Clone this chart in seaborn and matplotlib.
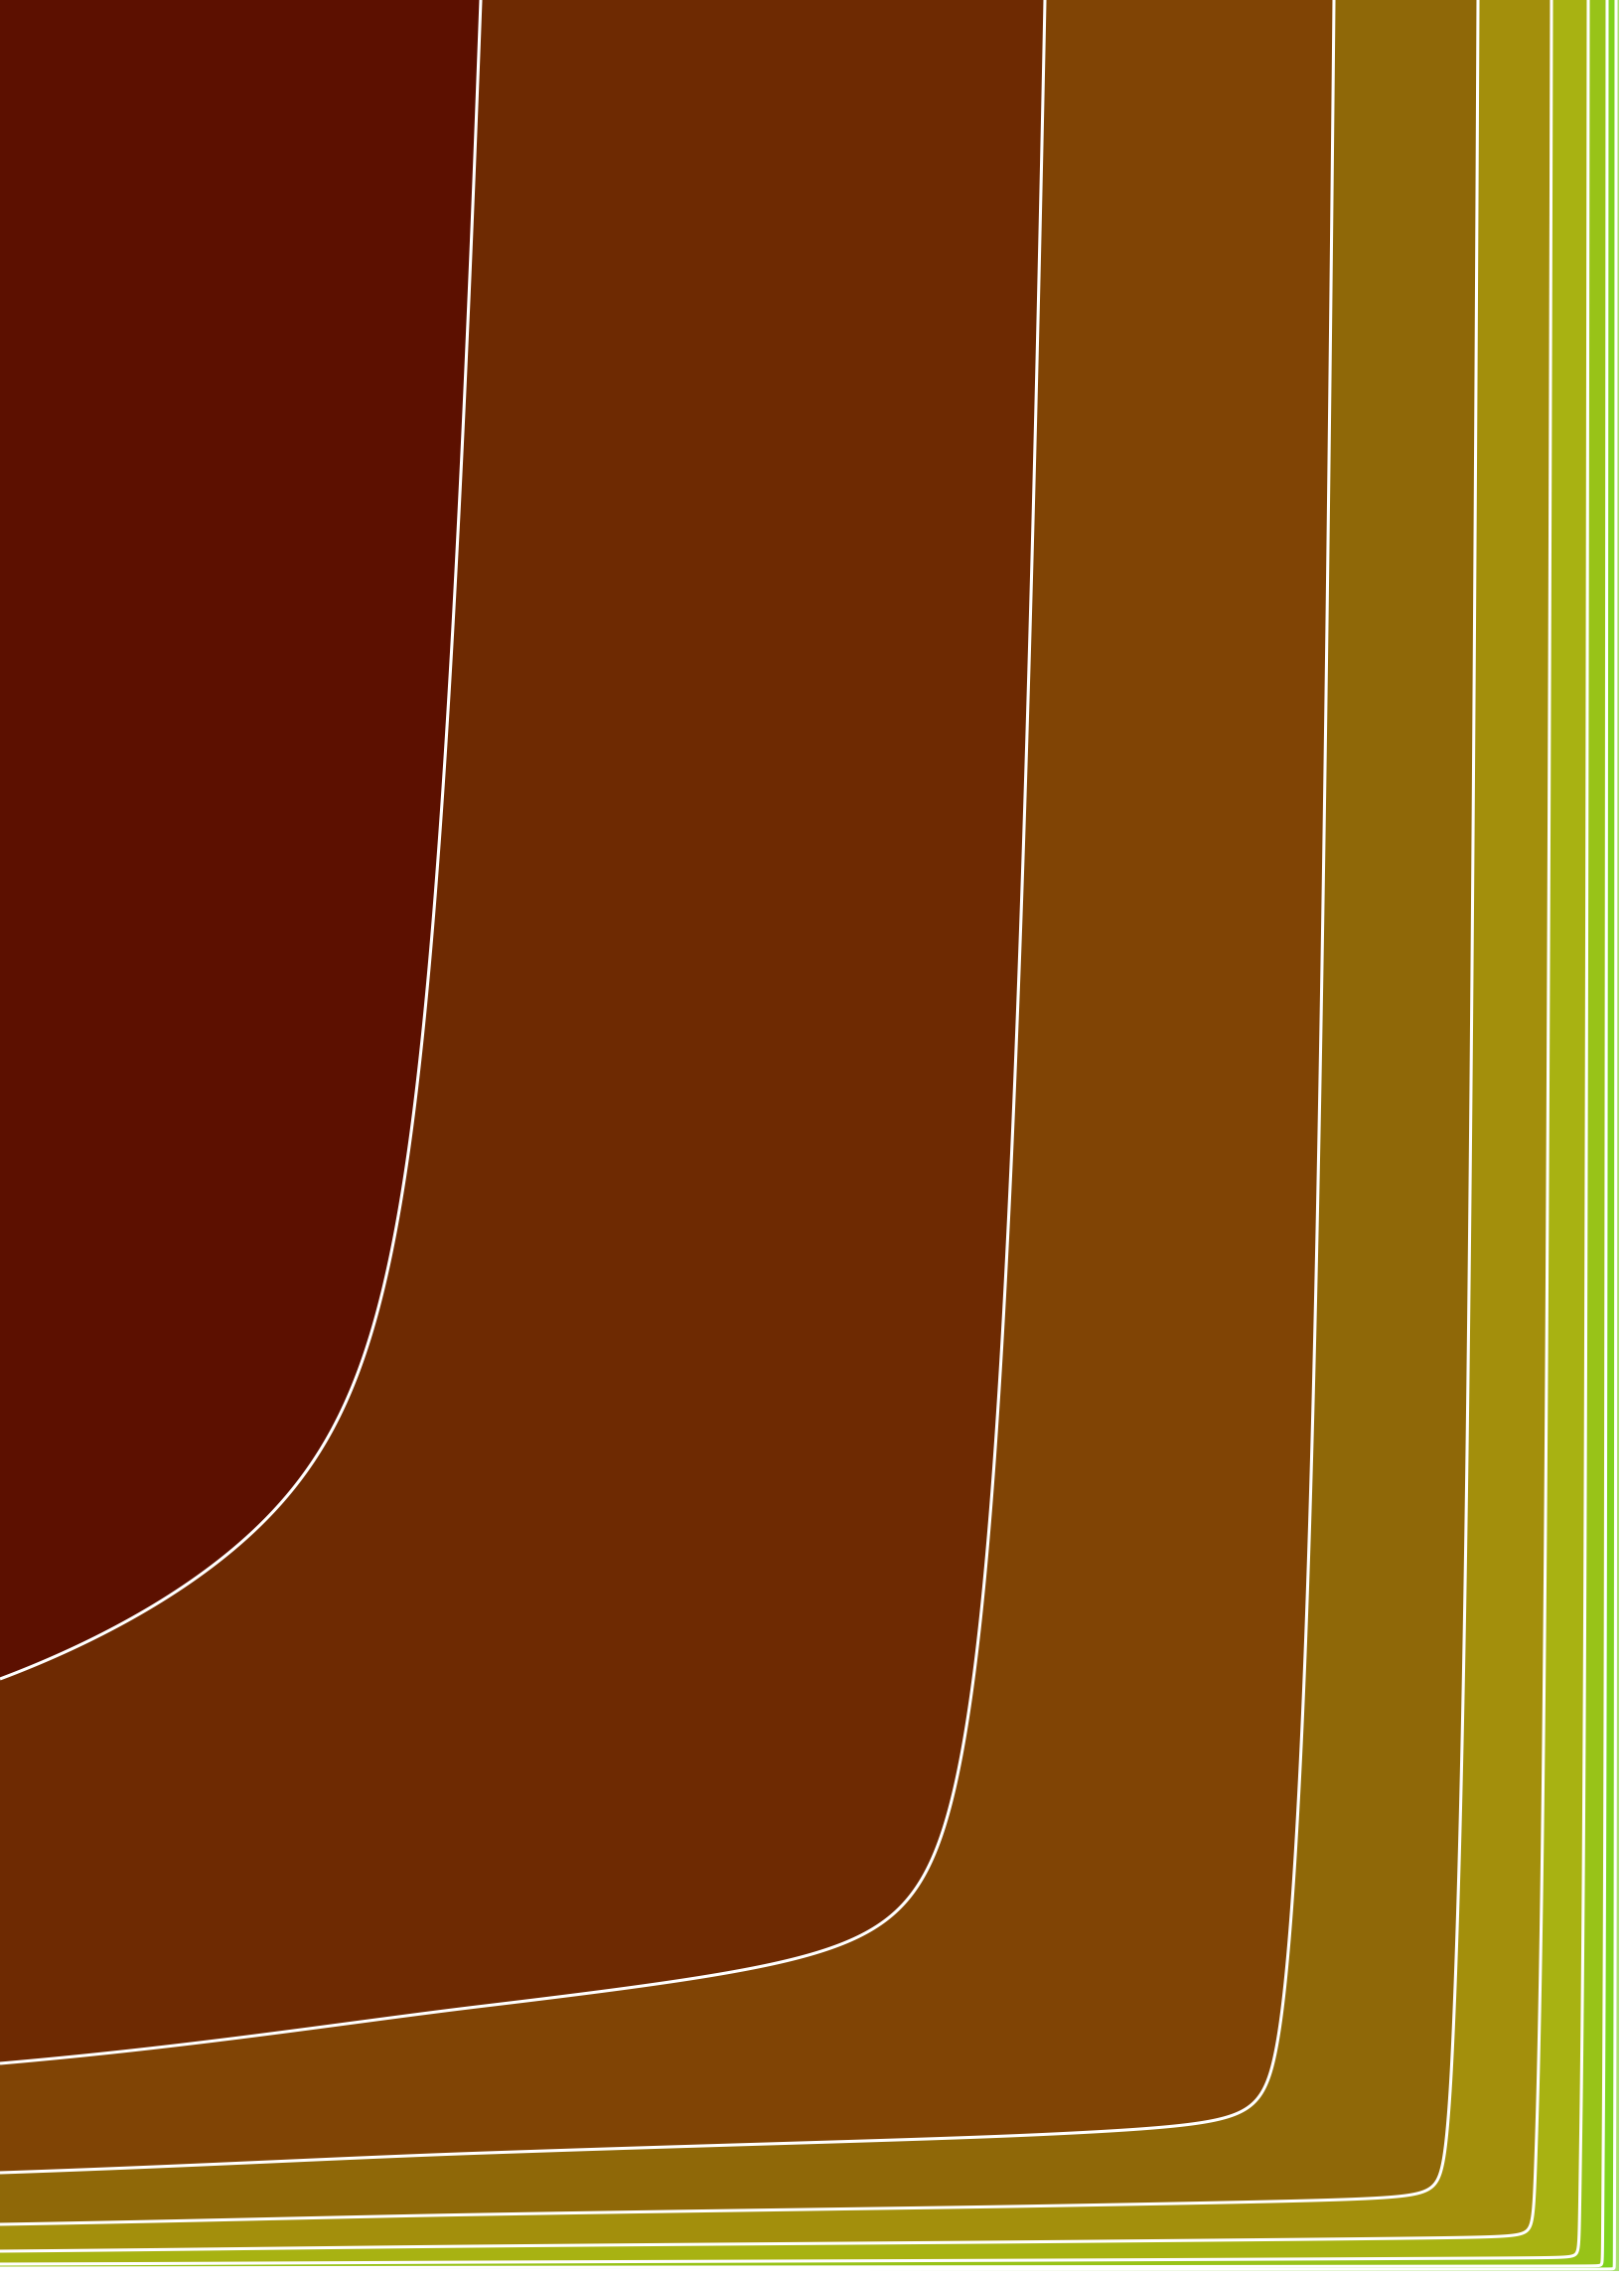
import numpy as np
import matplotlib
matplotlib.use("Agg")
import matplotlib.pyplot as plt
import seaborn as sns

# ---- data (pixel positions of the contour crossings) ----
# where each contour level meets the top edge (x, px) and the left edge (y, px)
top_crossings = [484, 1052, 1343, 1488, 1562, 1599, 1618, 1627]
left_crossings = [1690, 2077, 2187, 2239, 2266, 2279, 2283, 2285]
levels_idx = [1, 2, 3, 4, 5, 6, 7, 8]
x_limit = 1630      # field boundary on the right
y_limit = 2286      # field boundary at the bottom
band_colors = ["#5c1000", "#6e2a02", "#804405", "#8f6808", "#a38f0c",
               "#a8b212", "#98c318", "#80d21c", "#a8e070"]
vert_lean = (0.30, 2.0)    # lean of the vertical arms
horiz_lean = (0.60, 2.2)   # lean of the horizontal arms
corner_soft = 0.18         # corner rounding

sns.set_theme(style="white")

W, H = 1635, 2294
fig = plt.figure(figsize=(W / 100, H / 100), dpi=100)
ax = fig.add_axes([0, 0, 1, 1])


def pchip(xk, yk, x):
    xk = np.asarray(xk, float)
    yk = np.asarray(yk, float)
    h = np.diff(xk)
    delta = np.diff(yk) / h
    d = np.zeros_like(yk)
    for k in range(1, len(xk) - 1):
        if delta[k - 1] * delta[k] > 0:
            w1 = 2 * h[k] + h[k - 1]
            w2 = h[k] + 2 * h[k - 1]
            d[k] = (w1 + w2) / (w1 / delta[k - 1] + w2 / delta[k])
    d[0] = delta[0]
    d[-1] = delta[-1]
    idx = np.clip(np.searchsorted(xk, x) - 1, 0, len(xk) - 2)
    x0 = xk[idx]
    hh = h[idx]
    tt = (x - x0) / hh
    h00 = 2 * tt**3 - 3 * tt**2 + 1
    h10 = tt**3 - 2 * tt**2 + tt
    h01 = -2 * tt**3 + 3 * tt**2
    h11 = tt**3 - tt**2
    out = h00 * yk[idx] + h10 * hh * d[idx] + h01 * yk[idx + 1] + h11 * hh * d[idx + 1]
    hi = x > xk[-1]
    out[hi] = yk[-1] + (x[hi] - xk[-1]) * d[-1]
    return out


def lean_v(b):
    return vert_lean[0] * np.tanh(b / vert_lean[1])


def lean_h(a):
    return horiz_lean[0] * np.tanh(a / horiz_lean[1])


def smax(u, v):
    return (u + v) / 2 + np.sqrt(((u - v) / 2) ** 2 + corner_soft**2)


# invert the edge profiles so the contours cross the edges where read
dense = np.linspace(0, 30, 30001)
z_top = smax(dense, lean_h(dense))
z_left = smax(lean_v(dense), dense)
lv = np.array(levels_idx, float)
A_knots = np.concatenate([[0.0], np.interp(lv, z_top, dense)])
B_knots = np.concatenate([[0.0], np.interp(lv, z_left, dense)])

# log-distance coordinates towards the right / bottom boundary
s_grid = np.linspace(0, 9, 1800)
xs = x_limit * (1 - np.exp(-s_grid))
ys = y_limit * (1 - np.exp(-s_grid))
s_knots = np.concatenate([[0.0], -np.log((x_limit - np.array(top_crossings)) / x_limit)])
t_knots = np.concatenate([[0.0], -np.log((y_limit - np.array(left_crossings)) / y_limit)])

A = pchip(s_knots, A_knots, s_grid)
B = pchip(t_knots, B_knots, s_grid)
AA, BB = np.meshgrid(A, B)
Z = smax(AA + lean_v(BB), BB + lean_h(AA))

bounds = [-1] + levels_idx + [1e6]
ax.contourf(xs, ys, Z, levels=bounds, colors=band_colors)
ax.contour(xs, ys, Z, levels=levels_idx, colors="white", linewidths=2.2)

ax.set_xlim(0, W)
ax.set_ylim(H, 0)
ax.set_axis_off()
fig.savefig("out.png", dpi=100, facecolor="white")
